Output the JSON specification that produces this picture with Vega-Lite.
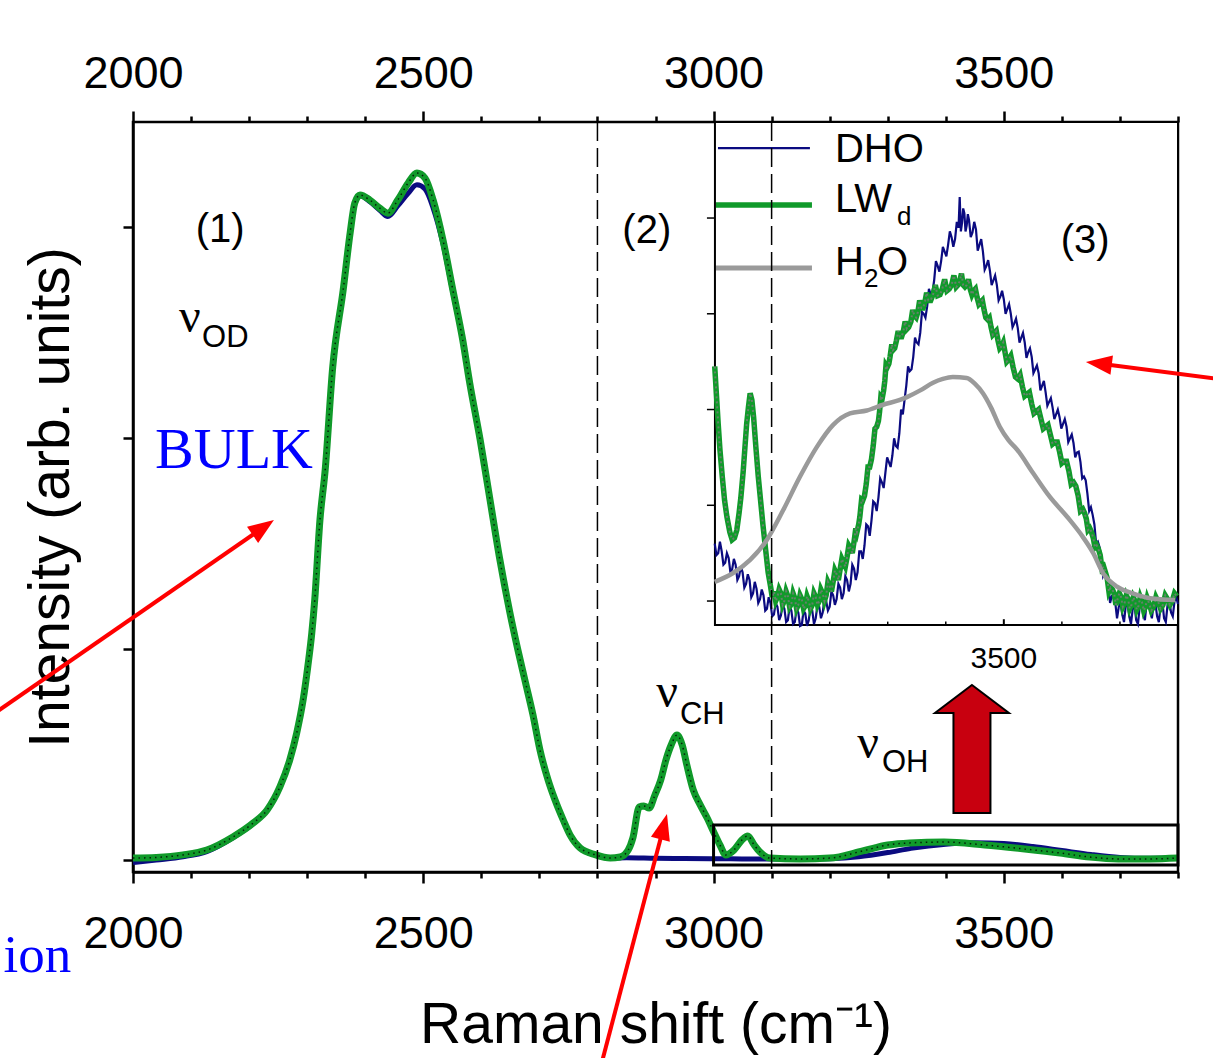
{
  "$schema": "https://vega.github.io/schema/vega-lite/v6.json",
  "width": 1045,
  "height": 750,
  "autosize": {"type": "none"},
  "padding": {"left": 133, "top": 122, "right": 35, "bottom": 186},
  "background": "white",
  "config": {
    "font": "Liberation Sans",
    "view": {"stroke": "black", "strokeWidth": 2.5},
    "axis": {"grid": false, "labelFlush": false, "labelOverlap": false, "domainColor": "black", "domainWidth": 2.5, "tickColor": "black", "tickWidth": 2.5,
      "labelFont": "Liberation Sans", "labelFontSize": 45, "labelColor": "black",
      "titleFont": "Liberation Sans", "titleFontSize": 57, "titleFontWeight": "normal", "titleColor": "black"}
  },
  "datasets": {
    "one": [{"k": 1}],
    "mainDHO": [
      {"x":2000,"y":-0.012},{"x":2040,"y":0.0},{"x":2086,"y":0.015},{"x":2127,"y":0.04},{"x":2172,"y":0.105},{"x":2207,"y":0.172},{"x":2231,"y":0.235},{"x":2253,"y":0.344},{"x":2270,"y":0.472},{"x":2282,"y":0.6},{"x":2293,"y":0.756},{"x":2301,"y":0.913},{"x":2308,"y":1.074},{"x":2313,"y":1.23},{"x":2322,"y":1.61},{"x":2331,"y":1.846},{"x":2344,"y":2.334},{"x":2362,"y":2.7},{"x":2374,"y":2.97},{"x":2382,"y":3.11},{"x":2391,"y":3.148},{"x":2408,"y":3.12},{"x":2425,"y":3.08},{"x":2439,"y":3.05},{"x":2456,"y":3.1},{"x":2474,"y":3.16},{"x":2489,"y":3.2},{"x":2503,"y":3.18},{"x":2517,"y":3.09},{"x":2534,"y":2.92},{"x":2551,"y":2.69},{"x":2568,"y":2.46},{"x":2580,"y":2.26},{"x":2598,"y":1.99},{"x":2615,"y":1.7},{"x":2632,"y":1.42},{"x":2649,"y":1.17},{"x":2663,"y":0.99},{"x":2675,"y":0.85},{"x":2689,"y":0.685},{"x":2701,"y":0.52},{"x":2715,"y":0.378},{"x":2727,"y":0.283},{"x":2741,"y":0.189},{"x":2753,"y":0.117},{"x":2770,"y":0.056},{"x":2797,"y":0.022},{"x":2822,"y":0.008},{"x":2850,"y":0.01},{"x":2900,"y":0.008},{"x":2950,"y":0.007},{"x":3000,"y":0.006},{"x":3050,"y":0.005},{"x":3100,"y":0.005},{"x":3150,"y":0.004},{"x":3200,"y":0.006},{"x":3250,"y":0.015},{"x":3300,"y":0.035},{"x":3340,"y":0.055},{"x":3400,"y":0.075},{"x":3450,"y":0.082},{"x":3500,"y":0.078},{"x":3550,"y":0.064},{"x":3600,"y":0.045},{"x":3650,"y":0.026},{"x":3700,"y":0.012},{"x":3750,"y":0.008},{"x":3800,"y":0.01}
    ],
    "mainLWd": [
      {"x":2000,"y":0.009},{"x":2040,"y":0.012},{"x":2086,"y":0.024},{"x":2127,"y":0.047},{"x":2172,"y":0.109},{"x":2207,"y":0.175},{"x":2231,"y":0.237},{"x":2253,"y":0.346},{"x":2270,"y":0.474},{"x":2282,"y":0.602},{"x":2293,"y":0.758},{"x":2301,"y":0.915},{"x":2308,"y":1.076},{"x":2313,"y":1.232},{"x":2322,"y":1.611},{"x":2331,"y":1.848},{"x":2344,"y":2.336},{"x":2362,"y":2.701},{"x":2374,"y":2.972},{"x":2382,"y":3.114},{"x":2391,"y":3.152},{"x":2408,"y":3.128},{"x":2425,"y":3.09},{"x":2439,"y":3.066},{"x":2456,"y":3.128},{"x":2474,"y":3.209},{"x":2489,"y":3.256},{"x":2503,"y":3.232},{"x":2517,"y":3.128},{"x":2534,"y":2.938},{"x":2551,"y":2.701},{"x":2568,"y":2.464},{"x":2580,"y":2.261},{"x":2598,"y":1.991},{"x":2615,"y":1.706},{"x":2632,"y":1.422},{"x":2649,"y":1.175},{"x":2663,"y":0.995},{"x":2675,"y":0.853},{"x":2689,"y":0.687},{"x":2701,"y":0.521},{"x":2715,"y":0.379},{"x":2727,"y":0.284},{"x":2741,"y":0.19},{"x":2753,"y":0.118},{"x":2770,"y":0.057},{"x":2797,"y":0.024},{"x":2822,"y":0.009},{"x":2839,"y":0.014},{"x":2853,"y":0.047},{"x":2861,"y":0.104},{"x":2872,"y":0.251},{"x":2880,"y":0.256},{"x":2889,"y":0.246},{"x":2899,"y":0.308},{"x":2909,"y":0.379},{"x":2918,"y":0.474},{"x":2927,"y":0.545},{"x":2937,"y":0.592},{"x":2946,"y":0.545},{"x":2954,"y":0.45},{"x":2965,"y":0.332},{"x":2977,"y":0.261},{"x":2989,"y":0.199},{"x":3001,"y":0.128},{"x":3011,"y":0.071},{"x":3021,"y":0.024},{"x":3035,"y":0.047},{"x":3049,"y":0.095},{"x":3059,"y":0.114},{"x":3070,"y":0.071},{"x":3080,"y":0.038},{"x":3097,"y":0.009},{"x":3149,"y":0.005},{"x":3200,"y":0.009},{"x":3257,"y":0.043},{"x":3300,"y":0.071},{"x":3338,"y":0.081},{"x":3397,"y":0.085},{"x":3467,"y":0.071},{"x":3536,"y":0.052},{"x":3597,"y":0.033},{"x":3648,"y":0.014},{"x":3697,"y":0.005},{"x":3752,"y":0.005},{"x":3800,"y":0.009}
    ],
    "insDHO": [
      {"x":3002,"y":0.6},{"x":3005,"y":0.48},{"x":3008,"y":0.5},{"x":3011,"y":0.62},{"x":3014,"y":0.52},{"x":3017,"y":0.38},{"x":3020,"y":0.4},{"x":3023,"y":0.5},{"x":3026,"y":0.45},{"x":3029,"y":0.3},{"x":3032,"y":0.33},{"x":3035,"y":0.44},{"x":3038,"y":0.38},{"x":3041,"y":0.22},{"x":3044,"y":0.26},{"x":3047,"y":0.36},{"x":3050,"y":0.3},{"x":3053,"y":0.14},{"x":3056,"y":0.18},{"x":3059,"y":0.28},{"x":3062,"y":0.22},{"x":3065,"y":0.04},{"x":3068,"y":0.08},{"x":3071,"y":0.2},{"x":3074,"y":0.13},{"x":3077,"y":-0.02},{"x":3080,"y":0.02},{"x":3083,"y":0.12},{"x":3086,"y":0.06},{"x":3089,"y":-0.1},{"x":3092,"y":-0.08},{"x":3095,"y":0.04},{"x":3098,"y":-0.02},{"x":3101,"y":-0.16},{"x":3104,"y":-0.14},{"x":3107,"y":-0.02},{"x":3110,"y":-0.06},{"x":3113,"y":-0.2},{"x":3116,"y":-0.15},{"x":3119,"y":-0.04},{"x":3122,"y":-0.08},{"x":3125,"y":-0.22},{"x":3128,"y":-0.2},{"x":3131,"y":-0.06},{"x":3134,"y":-0.1},{"x":3137,"y":-0.24},{"x":3140,"y":-0.22},{"x":3143,"y":-0.08},{"x":3146,"y":-0.12},{"x":3149,"y":-0.26},{"x":3152,"y":-0.25},{"x":3155,"y":-0.1},{"x":3158,"y":-0.13},{"x":3161,"y":-0.26},{"x":3164,"y":-0.2},{"x":3167,"y":-0.06},{"x":3170,"y":-0.1},{"x":3173,"y":-0.24},{"x":3176,"y":-0.18},{"x":3179,"y":-0.04},{"x":3182,"y":-0.06},{"x":3185,"y":-0.18},{"x":3188,"y":-0.12},{"x":3191,"y":0.02},{"x":3194,"y":0.0},{"x":3197,"y":-0.1},{"x":3200,"y":-0.06},{"x":3203,"y":0.1},{"x":3206,"y":0.06},{"x":3209,"y":-0.04},{"x":3212,"y":0.02},{"x":3215,"y":0.18},{"x":3218,"y":0.14},{"x":3221,"y":0.02},{"x":3224,"y":0.08},{"x":3227,"y":0.26},{"x":3230,"y":0.22},{"x":3233,"y":0.1},{"x":3236,"y":0.18},{"x":3239,"y":0.38},{"x":3242,"y":0.34},{"x":3245,"y":0.22},{"x":3248,"y":0.3},{"x":3251,"y":0.52},{"x":3254,"y":0.52},{"x":3257,"y":0.44},{"x":3260,"y":0.58},{"x":3263,"y":0.8},{"x":3266,"y":0.78},{"x":3269,"y":0.68},{"x":3272,"y":0.84},{"x":3275,"y":1.04},{"x":3278,"y":1.02},{"x":3281,"y":0.94},{"x":3284,"y":1.08},{"x":3287,"y":1.28},{"x":3290,"y":1.24},{"x":3293,"y":1.18},{"x":3296,"y":1.34},{"x":3299,"y":1.5},{"x":3302,"y":1.45},{"x":3305,"y":1.4},{"x":3308,"y":1.52},{"x":3311,"y":1.7},{"x":3314,"y":1.62},{"x":3317,"y":1.6},{"x":3320,"y":1.75},{"x":3323,"y":2.0},{"x":3326,"y":1.95},{"x":3329,"y":2.1},{"x":3332,"y":2.25},{"x":3335,"y":2.45},{"x":3338,"y":2.4},{"x":3341,"y":2.42},{"x":3344,"y":2.55},{"x":3347,"y":2.75},{"x":3350,"y":2.7},{"x":3353,"y":2.68},{"x":3356,"y":2.8},{"x":3359,"y":3.02},{"x":3362,"y":3.0},{"x":3365,"y":2.96},{"x":3368,"y":3.08},{"x":3371,"y":3.26},{"x":3374,"y":3.2},{"x":3377,"y":3.22},{"x":3380,"y":3.35},{"x":3383,"y":3.55},{"x":3386,"y":3.5},{"x":3389,"y":3.44},{"x":3392,"y":3.55},{"x":3395,"y":3.7},{"x":3398,"y":3.65},{"x":3401,"y":3.6},{"x":3404,"y":3.72},{"x":3407,"y":3.86},{"x":3410,"y":3.8},{"x":3413,"y":3.7},{"x":3416,"y":3.78},{"x":3419,"y":3.96},{"x":3422,"y":3.9},{"x":3424,"y":4.22},{"x":3426,"y":3.86},{"x":3428,"y":3.95},{"x":3430,"y":4.1},{"x":3432,"y":4.05},{"x":3434,"y":3.86},{"x":3436,"y":3.92},{"x":3438,"y":4.04},{"x":3440,"y":3.98},{"x":3443,"y":3.8},{"x":3446,"y":3.85},{"x":3449,"y":3.96},{"x":3452,"y":3.88},{"x":3455,"y":3.66},{"x":3458,"y":3.72},{"x":3461,"y":3.78},{"x":3464,"y":3.65},{"x":3467,"y":3.46},{"x":3470,"y":3.5},{"x":3473,"y":3.56},{"x":3476,"y":3.45},{"x":3479,"y":3.3},{"x":3482,"y":3.35},{"x":3485,"y":3.4},{"x":3488,"y":3.3},{"x":3491,"y":3.14},{"x":3494,"y":3.18},{"x":3497,"y":3.24},{"x":3500,"y":3.15},{"x":3503,"y":3.0},{"x":3506,"y":3.05},{"x":3509,"y":3.1},{"x":3512,"y":3.0},{"x":3515,"y":2.86},{"x":3518,"y":2.9},{"x":3521,"y":2.95},{"x":3524,"y":2.85},{"x":3527,"y":2.7},{"x":3530,"y":2.75},{"x":3533,"y":2.8},{"x":3536,"y":2.7},{"x":3539,"y":2.54},{"x":3542,"y":2.6},{"x":3545,"y":2.64},{"x":3548,"y":2.55},{"x":3551,"y":2.38},{"x":3554,"y":2.42},{"x":3557,"y":2.46},{"x":3560,"y":2.38},{"x":3563,"y":2.2},{"x":3566,"y":2.25},{"x":3569,"y":2.3},{"x":3572,"y":2.18},{"x":3575,"y":2.04},{"x":3578,"y":2.08},{"x":3581,"y":2.12},{"x":3584,"y":2.02},{"x":3587,"y":1.9},{"x":3590,"y":1.95},{"x":3593,"y":2.0},{"x":3596,"y":1.92},{"x":3599,"y":1.8},{"x":3602,"y":1.85},{"x":3605,"y":1.9},{"x":3608,"y":1.82},{"x":3611,"y":1.66},{"x":3614,"y":1.7},{"x":3617,"y":1.74},{"x":3620,"y":1.65},{"x":3623,"y":1.5},{"x":3626,"y":1.55},{"x":3629,"y":1.56},{"x":3632,"y":1.45},{"x":3635,"y":1.28},{"x":3638,"y":1.3},{"x":3641,"y":1.26},{"x":3644,"y":1.12},{"x":3647,"y":0.94},{"x":3650,"y":0.98},{"x":3653,"y":0.9},{"x":3656,"y":0.8},{"x":3659,"y":0.6},{"x":3662,"y":0.62},{"x":3665,"y":0.56},{"x":3668,"y":0.45},{"x":3671,"y":0.26},{"x":3674,"y":0.3},{"x":3677,"y":0.24},{"x":3680,"y":0.15},{"x":3683,"y":-0.02},{"x":3686,"y":0.05},{"x":3689,"y":0.04},{"x":3692,"y":-0.02},{"x":3695,"y":-0.18},{"x":3698,"y":-0.06},{"x":3701,"y":-0.02},{"x":3704,"y":-0.14},{"x":3707,"y":-0.22},{"x":3710,"y":-0.05},{"x":3713,"y":-0.02},{"x":3716,"y":-0.16},{"x":3719,"y":-0.24},{"x":3722,"y":-0.08},{"x":3725,"y":-0.04},{"x":3728,"y":-0.2},{"x":3731,"y":-0.24},{"x":3734,"y":-0.06},{"x":3737,"y":-0.02},{"x":3740,"y":-0.14},{"x":3743,"y":-0.2},{"x":3746,"y":-0.02},{"x":3749,"y":0.02},{"x":3752,"y":-0.1},{"x":3755,"y":-0.18},{"x":3758,"y":-0.04},{"x":3761,"y":-0.02},{"x":3764,"y":-0.16},{"x":3767,"y":-0.22},{"x":3770,"y":-0.05},{"x":3773,"y":0.0},{"x":3776,"y":-0.18},{"x":3779,"y":-0.22},{"x":3782,"y":-0.04},{"x":3785,"y":0.02},{"x":3788,"y":-0.12},{"x":3791,"y":-0.16},{"x":3794,"y":0.0},{"x":3797,"y":0.04},{"x":3800,"y":-0.03}
    ],
    "insLWd": [
      {"x":3002,"y":2.45},{"x":3005,"y":2.15},{"x":3008,"y":1.85},{"x":3011,"y":1.58},{"x":3015,"y":1.3},{"x":3019,"y":1.05},{"x":3023,"y":0.88},{"x":3028,"y":0.72},{"x":3032,"y":0.64},{"x":3036,"y":0.66},{"x":3040,"y":0.74},{"x":3044,"y":0.92},{"x":3047,"y":1.08},{"x":3051,"y":1.35},{"x":3054,"y":1.6},{"x":3057,"y":1.85},{"x":3060,"y":2.02},{"x":3063,"y":2.17},{"x":3066,"y":2.1},{"x":3069,"y":1.92},{"x":3073,"y":1.6},{"x":3077,"y":1.3},{"x":3081,"y":1.05},{"x":3085,"y":0.8},{"x":3090,"y":0.52},{"x":3094,"y":0.3},{"x":3098,"y":0.16},{"x":3101,"y":0.04},{"x":3104,"y":0.1},{"x":3107,"y":0.0},{"x":3110,"y":0.04},{"x":3113,"y":0.12},{"x":3116,"y":0.08},{"x":3119,"y":-0.04},{"x":3122,"y":0.0},{"x":3125,"y":0.1},{"x":3128,"y":0.05},{"x":3131,"y":-0.06},{"x":3134,"y":-0.03},{"x":3137,"y":0.08},{"x":3140,"y":0.03},{"x":3143,"y":-0.08},{"x":3146,"y":-0.04},{"x":3149,"y":0.06},{"x":3152,"y":0.02},{"x":3155,"y":-0.08},{"x":3158,"y":-0.05},{"x":3161,"y":0.05},{"x":3164,"y":0.0},{"x":3167,"y":-0.08},{"x":3170,"y":-0.04},{"x":3173,"y":0.08},{"x":3176,"y":0.04},{"x":3179,"y":-0.04},{"x":3182,"y":0.0},{"x":3185,"y":0.12},{"x":3188,"y":0.08},{"x":3191,"y":0.0},{"x":3194,"y":0.06},{"x":3197,"y":0.2},{"x":3200,"y":0.16},{"x":3203,"y":0.1},{"x":3206,"y":0.2},{"x":3209,"y":0.32},{"x":3212,"y":0.28},{"x":3215,"y":0.22},{"x":3218,"y":0.33},{"x":3221,"y":0.44},{"x":3224,"y":0.4},{"x":3227,"y":0.36},{"x":3230,"y":0.46},{"x":3233,"y":0.58},{"x":3236,"y":0.55},{"x":3239,"y":0.5},{"x":3242,"y":0.62},{"x":3245,"y":0.76},{"x":3247,"y":0.72},{"x":3250,"y":0.8},{"x":3252,"y":0.88},{"x":3255,"y":1.06},{"x":3257,"y":1.05},{"x":3260,"y":1.1},{"x":3263,"y":1.22},{"x":3266,"y":1.4},{"x":3269,"y":1.4},{"x":3272,"y":1.48},{"x":3275,"y":1.62},{"x":3278,"y":1.8},{"x":3281,"y":1.82},{"x":3284,"y":1.88},{"x":3286,"y":1.98},{"x":3288,"y":2.12},{"x":3290,"y":2.1},{"x":3293,"y":2.2},{"x":3295,"y":2.3},{"x":3297,"y":2.46},{"x":3299,"y":2.44},{"x":3302,"y":2.48},{"x":3304,"y":2.55},{"x":3307,"y":2.68},{"x":3309,"y":2.62},{"x":3312,"y":2.64},{"x":3315,"y":2.72},{"x":3318,"y":2.82},{"x":3321,"y":2.76},{"x":3324,"y":2.76},{"x":3327,"y":2.82},{"x":3330,"y":2.92},{"x":3333,"y":2.84},{"x":3336,"y":2.86},{"x":3340,"y":2.92},{"x":3343,"y":3.04},{"x":3346,"y":2.98},{"x":3349,"y":2.96},{"x":3352,"y":3.02},{"x":3355,"y":3.14},{"x":3358,"y":3.06},{"x":3361,"y":3.06},{"x":3364,"y":3.12},{"x":3367,"y":3.22},{"x":3370,"y":3.14},{"x":3374,"y":3.14},{"x":3378,"y":3.2},{"x":3382,"y":3.3},{"x":3386,"y":3.19},{"x":3390,"y":3.2},{"x":3394,"y":3.26},{"x":3398,"y":3.36},{"x":3402,"y":3.24},{"x":3406,"y":3.26},{"x":3410,"y":3.3},{"x":3414,"y":3.4},{"x":3418,"y":3.28},{"x":3421,"y":3.3},{"x":3424,"y":3.34},{"x":3427,"y":3.42},{"x":3430,"y":3.3},{"x":3433,"y":3.28},{"x":3436,"y":3.3},{"x":3439,"y":3.36},{"x":3442,"y":3.26},{"x":3445,"y":3.2},{"x":3448,"y":3.24},{"x":3451,"y":3.26},{"x":3454,"y":3.17},{"x":3457,"y":3.1},{"x":3460,"y":3.12},{"x":3463,"y":3.14},{"x":3466,"y":3.04},{"x":3469,"y":2.96},{"x":3472,"y":2.94},{"x":3475,"y":2.96},{"x":3478,"y":2.86},{"x":3481,"y":2.78},{"x":3484,"y":2.8},{"x":3487,"y":2.82},{"x":3490,"y":2.72},{"x":3493,"y":2.64},{"x":3496,"y":2.66},{"x":3499,"y":2.7},{"x":3502,"y":2.6},{"x":3505,"y":2.5},{"x":3508,"y":2.52},{"x":3512,"y":2.56},{"x":3516,"y":2.44},{"x":3520,"y":2.34},{"x":3524,"y":2.32},{"x":3528,"y":2.36},{"x":3532,"y":2.24},{"x":3536,"y":2.14},{"x":3540,"y":2.16},{"x":3544,"y":2.18},{"x":3548,"y":2.06},{"x":3552,"y":1.96},{"x":3556,"y":1.98},{"x":3560,"y":2.0},{"x":3564,"y":1.9},{"x":3568,"y":1.8},{"x":3572,"y":1.82},{"x":3576,"y":1.84},{"x":3580,"y":1.74},{"x":3584,"y":1.64},{"x":3588,"y":1.66},{"x":3592,"y":1.66},{"x":3596,"y":1.56},{"x":3600,"y":1.44},{"x":3604,"y":1.46},{"x":3608,"y":1.46},{"x":3612,"y":1.36},{"x":3616,"y":1.22},{"x":3620,"y":1.24},{"x":3624,"y":1.2},{"x":3628,"y":1.1},{"x":3632,"y":0.94},{"x":3636,"y":0.96},{"x":3639,"y":0.92},{"x":3642,"y":0.86},{"x":3645,"y":0.74},{"x":3648,"y":0.76},{"x":3651,"y":0.72},{"x":3654,"y":0.66},{"x":3657,"y":0.56},{"x":3660,"y":0.58},{"x":3663,"y":0.54},{"x":3666,"y":0.48},{"x":3669,"y":0.34},{"x":3672,"y":0.36},{"x":3675,"y":0.3},{"x":3678,"y":0.24},{"x":3681,"y":0.1},{"x":3684,"y":0.14},{"x":3687,"y":0.12},{"x":3690,"y":0.08},{"x":3693,"y":-0.04},{"x":3696,"y":0.02},{"x":3699,"y":0.08},{"x":3702,"y":0.04},{"x":3705,"y":-0.06},{"x":3708,"y":-0.02},{"x":3711,"y":0.06},{"x":3714,"y":0.02},{"x":3717,"y":-0.08},{"x":3720,"y":-0.04},{"x":3723,"y":0.04},{"x":3726,"y":0.0},{"x":3729,"y":-0.09},{"x":3732,"y":-0.05},{"x":3735,"y":0.04},{"x":3738,"y":-0.01},{"x":3741,"y":-0.1},{"x":3744,"y":-0.06},{"x":3747,"y":0.03},{"x":3750,"y":-0.02},{"x":3754,"y":-0.1},{"x":3758,"y":-0.06},{"x":3762,"y":0.04},{"x":3766,"y":-0.01},{"x":3770,"y":-0.08},{"x":3774,"y":-0.04},{"x":3778,"y":0.06},{"x":3782,"y":0.02},{"x":3786,"y":-0.04},{"x":3790,"y":0.0},{"x":3794,"y":0.08},{"x":3798,"y":0.05}
    ],
    "insH2O": [
      {"x":3002,"y":0.2},{"x":3033,"y":0.29},{"x":3063,"y":0.43},{"x":3092,"y":0.64},{"x":3120,"y":0.95},{"x":3149,"y":1.3},{"x":3178,"y":1.61},{"x":3206,"y":1.84},{"x":3235,"y":1.96},{"x":3264,"y":1.99},{"x":3292,"y":2.05},{"x":3321,"y":2.1},{"x":3333,"y":2.13},{"x":3356,"y":2.2},{"x":3378,"y":2.28},{"x":3395,"y":2.32},{"x":3412,"y":2.34},{"x":3436,"y":2.33},{"x":3450,"y":2.27},{"x":3464,"y":2.17},{"x":3478,"y":2.02},{"x":3493,"y":1.82},{"x":3508,"y":1.68},{"x":3523,"y":1.58},{"x":3550,"y":1.34},{"x":3579,"y":1.09},{"x":3609,"y":0.88},{"x":3636,"y":0.67},{"x":3654,"y":0.5},{"x":3671,"y":0.29},{"x":3695,"y":0.15},{"x":3722,"y":0.08},{"x":3752,"y":0.03},{"x":3795,"y":0.01}
    ]
  },
  "resolve": {"scale": {"y": "independent"}, "axis": {"x": "independent", "y": "independent"}},
  "layer": [
    {
      "data": {"name": "mainDHO"},
      "mark": {"type": "line", "color": "#0b0b80", "strokeWidth": 5, "interpolate": "monotone"},
      "encoding": {
        "x": {"field": "x", "type": "quantitative", "scale": {"domain": [2000, 3800], "nice": false, "zero": false},
          "axis": {"orient": "bottom", "values": [2000, 2500, 3000, 3500], "format": "d", "tickSize": 11, "labelPadding": 28, "title": "Raman shift (cm⁻¹)", "titlePadding": 41}},
        "y": {"field": "y", "type": "quantitative", "scale": {"domain": [-0.057, 3.498], "nice": false, "zero": false},
          "axis": {"orient": "left", "values": [0, 1, 2, 3], "tickSize": 10, "labels": false, "title": "Intensity (arb. units)", "titlePadding": 41}}
      }
    },
    {
      "data": {"name": "mainLWd"},
      "mark": {"type": "line", "color": "#109a2a", "strokeWidth": 7, "interpolate": "monotone"},
      "encoding": {
        "x": {"field": "x", "type": "quantitative", "scale": {"domain": [2000, 3800], "nice": false, "zero": false},
          "axis": {"orient": "bottom", "values": [2100, 2200, 2300, 2400, 2600, 2700, 2800, 2900, 3100, 3200, 3300, 3400, 3600, 3700, 3800], "tickSize": 6, "labels": false, "domain": false, "title": null}},
        "y": {"field": "y", "type": "quantitative", "scale": {"domain": [-0.057, 3.498], "nice": false, "zero": false}, "axis": null}
      }
    },
    {
      "data": {"name": "mainLWd"},
      "mark": {"type": "line", "color": "black", "strokeWidth": 1.5, "strokeDash": [1.5, 4], "opacity": 0.8, "interpolate": "monotone"},
      "encoding": {
        "x": {"field": "x", "type": "quantitative", "scale": {"domain": [2000, 3800], "nice": false, "zero": false},
          "axis": {"orient": "top", "values": [2000, 2500, 3000, 3500], "format": "d", "tickSize": 11, "labelPadding": 14.5, "domain": false, "title": null}},
        "y": {"field": "y", "type": "quantitative", "scale": {"domain": [-0.057, 3.498], "nice": false, "zero": false}, "axis": null}
      }
    },
    {
      "data": {"name": "one"},
      "mark": {"type": "rect", "filled": false, "stroke": "black", "strokeWidth": 3},
      "encoding": {
        "x": {"datum": 3000, "type": "quantitative", "scale": {"domain": [2000, 3800], "nice": false, "zero": false}, "axis": null},
        "x2": {"datum": 3800},
        "y": {"datum": -0.024, "type": "quantitative", "scale": {"domain": [-0.057, 3.498], "nice": false, "zero": false}, "axis": null},
        "y2": {"datum": 0.166}
      }
    },
    {
      "data": {"name": "one"},
      "mark": {"type": "rect", "fill": "white", "stroke": "black", "strokeWidth": 2},
      "encoding": {
        "x": {"datum": 3002.4, "type": "quantitative", "scale": {"domain": [2000, 3800], "nice": false, "zero": false}, "axis": null},
        "x2": {"datum": 3800},
        "y": {"datum": -0.25, "type": "quantitative", "scale": {"domain": [-2.83, 5.003], "nice": false, "zero": false}, "axis": null},
        "y2": {"datum": 5.003}
      }
    },
    {
      "data": {"values": [{"v": 0}, {"v": 1}, {"v": 2}, {"v": 3}, {"v": 4}]},
      "mark": {"type": "rule", "color": "black", "strokeWidth": 1.5},
      "encoding": {
        "x": {"datum": 2988.6, "type": "quantitative", "scale": {"domain": [2000, 3800], "nice": false, "zero": false}, "axis": null},
        "x2": {"datum": 3002.4},
        "y": {"field": "v", "type": "quantitative", "scale": {"domain": [-2.83, 5.003], "nice": false, "zero": false}, "axis": null}
      }
    },
    {
      "data": {"values": [{"v": 3100}, {"v": 3200}, {"v": 3300}, {"v": 3400}, {"v": 3600}, {"v": 3700}]},
      "mark": {"type": "rule", "color": "black", "strokeWidth": 1.5},
      "encoding": {
        "x": {"field": "v", "type": "quantitative", "scale": {"domain": [2000, 3800], "nice": false, "zero": false}, "axis": null},
        "y": {"datum": -0.25, "type": "quantitative", "scale": {"domain": [-2.83, 5.003], "nice": false, "zero": false}, "axis": null},
        "y2": {"datum": -0.215}
      }
    },
    {
      "data": {"values": [{"v": 3500}]},
      "mark": {"type": "rule", "color": "black", "strokeWidth": 2},
      "encoding": {
        "x": {"field": "v", "type": "quantitative", "scale": {"domain": [2000, 3800], "nice": false, "zero": false}, "axis": null},
        "y": {"datum": -0.25, "type": "quantitative", "scale": {"domain": [-2.83, 5.003], "nice": false, "zero": false}, "axis": null},
        "y2": {"datum": -0.19}
      }
    },
    {
      "data": {"values": [{"x": 3500, "y": -0.7, "t": "3500"}]},
      "mark": {"type": "text", "fontSize": 30, "font": "Liberation Sans", "align": "center", "baseline": "alphabetic", "color": "black"},
      "encoding": {
        "x": {"field": "x", "type": "quantitative", "scale": {"domain": [2000, 3800], "nice": false, "zero": false}, "axis": null},
        "y": {"field": "y", "type": "quantitative", "scale": {"domain": [-2.83, 5.003], "nice": false, "zero": false}, "axis": null},
        "text": {"field": "t"}
      }
    },
    {
      "data": {"name": "insDHO"},
      "mark": {"type": "line", "color": "#0b0b80", "strokeWidth": 2.2},
      "encoding": {
        "x": {"field": "x", "type": "quantitative", "scale": {"domain": [2000, 3800], "nice": false, "zero": false}, "axis": null},
        "y": {"field": "y", "type": "quantitative", "scale": {"domain": [-2.83, 5.003], "nice": false, "zero": false}, "axis": null}
      }
    },
    {
      "data": {"name": "insLWd"},
      "mark": {"type": "line", "color": "#109a2a", "strokeWidth": 5.5},
      "encoding": {
        "x": {"field": "x", "type": "quantitative", "scale": {"domain": [2000, 3800], "nice": false, "zero": false}, "axis": null},
        "y": {"field": "y", "type": "quantitative", "scale": {"domain": [-2.83, 5.003], "nice": false, "zero": false}, "axis": null}
      }
    },
    {
      "data": {"name": "insLWd"},
      "mark": {"type": "line", "color": "#7a7a7a", "strokeWidth": 2, "strokeDash": [2, 3], "opacity": 0.8},
      "encoding": {
        "x": {"field": "x", "type": "quantitative", "scale": {"domain": [2000, 3800], "nice": false, "zero": false}, "axis": null},
        "y": {"field": "y", "type": "quantitative", "scale": {"domain": [-2.83, 5.003], "nice": false, "zero": false}, "axis": null}
      }
    },
    {
      "data": {"name": "insH2O"},
      "mark": {"type": "line", "color": "#9a9a9a", "strokeWidth": 4.5, "interpolate": "monotone"},
      "encoding": {
        "x": {"field": "x", "type": "quantitative", "scale": {"domain": [2000, 3800], "nice": false, "zero": false}, "axis": null},
        "y": {"field": "y", "type": "quantitative", "scale": {"domain": [-2.83, 5.003], "nice": false, "zero": false}, "axis": null}
      }
    },
    {
      "data": {"name": "one"},
      "mark": {"type": "rule", "color": "#0b0b80", "strokeWidth": 2.2},
      "encoding": {
        "x": {"datum": 3007.6, "type": "quantitative", "scale": {"domain": [2000, 3800], "nice": false, "zero": false}, "axis": null},
        "x2": {"datum": 3166},
        "y": {"datum": 3.374, "type": "quantitative", "scale": {"domain": [-0.057, 3.498], "nice": false, "zero": false}, "axis": null}
      }
    },
    {
      "data": {"name": "one"},
      "mark": {"type": "rule", "color": "#109a2a", "strokeWidth": 5.5},
      "encoding": {
        "x": {"datum": 3004.2, "type": "quantitative", "scale": {"domain": [2000, 3800], "nice": false, "zero": false}, "axis": null},
        "x2": {"datum": 3169.5},
        "y": {"datum": 3.104, "type": "quantitative", "scale": {"domain": [-0.057, 3.498], "nice": false, "zero": false}, "axis": null}
      }
    },
    {
      "data": {"name": "one"},
      "mark": {"type": "rule", "color": "#9a9a9a", "strokeWidth": 5},
      "encoding": {
        "x": {"datum": 3004.2, "type": "quantitative", "scale": {"domain": [2000, 3800], "nice": false, "zero": false}, "axis": null},
        "x2": {"datum": 3169.5},
        "y": {"datum": 2.806, "type": "quantitative", "scale": {"domain": [-0.057, 3.498], "nice": false, "zero": false}, "axis": null}
      }
    },
    {
      "data": {"values": [{"x": 3209, "y": 3.308, "t": "DHO"}, {"x": 3209, "y": 3.071, "t": "LW"}, {"x": 3209, "y": 2.773, "t": "H"}, {"x": 3281.4, "y": 2.773, "t": "O"}]},
      "mark": {"type": "text", "fontSize": 40, "font": "Liberation Sans", "align": "left", "baseline": "alphabetic", "color": "black"},
      "encoding": {
        "x": {"field": "x", "type": "quantitative", "scale": {"domain": [2000, 3800], "nice": false, "zero": false}, "axis": null},
        "y": {"field": "y", "type": "quantitative", "scale": {"domain": [-0.057, 3.498], "nice": false, "zero": false}, "axis": null},
        "text": {"field": "t"}
      }
    },
    {
      "data": {"values": [{"x": 3316, "y": 3.009, "t": "d"}, {"x": 3259, "y": 2.716, "t": "2"}]},
      "mark": {"type": "text", "fontSize": 26, "font": "Liberation Sans", "align": "left", "baseline": "alphabetic", "color": "black"},
      "encoding": {
        "x": {"field": "x", "type": "quantitative", "scale": {"domain": [2000, 3800], "nice": false, "zero": false}, "axis": null},
        "y": {"field": "y", "type": "quantitative", "scale": {"domain": [-0.057, 3.498], "nice": false, "zero": false}, "axis": null},
        "text": {"field": "t"}
      }
    },
    {
      "data": {"values": [{"x": 2800}, {"x": 3100}]},
      "mark": {"type": "rule", "color": "black", "strokeWidth": 1.5, "strokeDash": [19, 7]},
      "encoding": {
        "x": {"field": "x", "type": "quantitative", "scale": {"domain": [2000, 3800], "nice": false, "zero": false},
          "axis": {"orient": "top", "values": [2100, 2200, 2300, 2400, 2600, 2700, 2800, 2900, 3100, 3200, 3300, 3400, 3600, 3700, 3800], "tickSize": 6, "labels": false, "domain": false, "title": null}}
      }
    },
    {
      "data": {"values": [{"x": 3541.6, "y": 2.616, "t": "SASA"}]},
      "mark": {"type": "text", "fontSize": 50, "font": "Liberation Sans", "align": "left", "baseline": "alphabetic", "color": "white"},
      "encoding": {
        "x": {"field": "x", "type": "quantitative", "scale": {"domain": [2000, 3800], "nice": false, "zero": false}, "axis": null},
        "y": {"field": "y", "type": "quantitative", "scale": {"domain": [-0.057, 3.498], "nice": false, "zero": false}, "axis": null},
        "text": {"field": "t"}
      }
    },
    {
      "data": {"values": [{"x": 2150, "y": 2.929, "t": "(1)"}, {"x": 2885, "y": 2.924, "t": "(2)"}, {"x": 3640, "y": 2.877, "t": "(3)"}]},
      "mark": {"type": "text", "fontSize": 40, "font": "Liberation Sans", "align": "center", "baseline": "alphabetic", "color": "black"},
      "encoding": {
        "x": {"field": "x", "type": "quantitative", "scale": {"domain": [2000, 3800], "nice": false, "zero": false}, "axis": null},
        "y": {"field": "y", "type": "quantitative", "scale": {"domain": [-0.057, 3.498], "nice": false, "zero": false}, "axis": null},
        "text": {"field": "t"}
      }
    },
    {
      "data": {"values": [{"x": 2098, "y": 2.502, "t": "ν"}, {"x": 2920, "y": 0.725, "t": "ν"}, {"x": 3266, "y": 0.483, "t": "ν"}]},
      "mark": {"type": "text", "fontSize": 48, "font": "Liberation Serif", "align": "center", "baseline": "alphabetic", "color": "black"},
      "encoding": {
        "x": {"field": "x", "type": "quantitative", "scale": {"domain": [2000, 3800], "nice": false, "zero": false}, "axis": null},
        "y": {"field": "y", "type": "quantitative", "scale": {"domain": [-0.057, 3.498], "nice": false, "zero": false}, "axis": null},
        "text": {"field": "t"}
      }
    },
    {
      "data": {"values": [{"x": 2119, "y": 2.431, "t": "OD"}, {"x": 2942, "y": 0.645, "t": "CH"}, {"x": 3290, "y": 0.417, "t": "OH"}]},
      "mark": {"type": "text", "fontSize": 31, "font": "Liberation Sans", "align": "left", "baseline": "alphabetic", "color": "black"},
      "encoding": {
        "x": {"field": "x", "type": "quantitative", "scale": {"domain": [2000, 3800], "nice": false, "zero": false}, "axis": null},
        "y": {"field": "y", "type": "quantitative", "scale": {"domain": [-0.057, 3.498], "nice": false, "zero": false}, "axis": null},
        "text": {"field": "t"}
      }
    },
    {
      "data": {"values": [{"x": 2038, "y": 1.858, "t": "BULK"}]},
      "mark": {"type": "text", "fontSize": 58, "font": "Liberation Serif", "align": "left", "baseline": "alphabetic", "color": "#0000ff"},
      "encoding": {
        "x": {"field": "x", "type": "quantitative", "scale": {"domain": [2000, 3800], "nice": false, "zero": false}, "axis": null},
        "y": {"field": "y", "type": "quantitative", "scale": {"domain": [-0.057, 3.498], "nice": false, "zero": false}, "axis": null},
        "text": {"field": "t"}
      }
    },
    {
      "data": {"values": [{"x": 1893.5, "y": -0.531, "t": "ion"}]},
      "mark": {"type": "text", "fontSize": 53, "font": "Liberation Serif", "align": "right", "baseline": "alphabetic", "color": "#0000ff"},
      "encoding": {
        "x": {"field": "x", "type": "quantitative", "scale": {"domain": [2000, 3800], "nice": false, "zero": false}, "axis": null},
        "y": {"field": "y", "type": "quantitative", "scale": {"domain": [-0.057, 3.498], "nice": false, "zero": false}, "axis": null},
        "text": {"field": "t"}
      }
    },
    {
      "data": {"values": [
        {"a": 1, "x": 1762.3, "y": 0.697}, {"a": 1, "x": 2224.4, "y": 1.576},
        {"a": 2, "x": 2806, "y": -0.976}, {"a": 2, "x": 2914.1, "y": 0.158},
        {"a": 3, "x": 3865.3, "y": 2.282}, {"a": 3, "x": 3663.6, "y": 2.353}
      ]},
      "mark": {"type": "line", "color": "#ff0000", "strokeWidth": 4},
      "encoding": {
        "x": {"field": "x", "type": "quantitative", "scale": {"domain": [2000, 3800], "nice": false, "zero": false}, "axis": null},
        "y": {"field": "y", "type": "quantitative", "scale": {"domain": [-0.057, 3.498], "nice": false, "zero": false}, "axis": null},
        "detail": {"field": "a", "type": "nominal"}
      }
    },
    {
      "data": {"name": "one"},
      "mark": {"type": "point", "shape": "M0,-1L0.75,1L-0.75,1Z", "size": 676, "filled": true, "color": "#ff0000", "opacity": 1, "angle": 55.3},
      "encoding": {
        "x": {"datum": 2224.4, "type": "quantitative", "scale": {"domain": [2000, 3800], "nice": false, "zero": false}, "axis": null},
        "y": {"datum": 1.576, "type": "quantitative", "scale": {"domain": [-0.057, 3.498], "nice": false, "zero": false}, "axis": null}
      }
    },
    {
      "data": {"name": "one"},
      "mark": {"type": "point", "shape": "M0,-1L0.75,1L-0.75,1Z", "size": 676, "filled": true, "color": "#ff0000", "opacity": 1, "angle": 14.7},
      "encoding": {
        "x": {"datum": 2914.1, "type": "quantitative", "scale": {"domain": [2000, 3800], "nice": false, "zero": false}, "axis": null},
        "y": {"datum": 0.158, "type": "quantitative", "scale": {"domain": [-0.057, 3.498], "nice": false, "zero": false}, "axis": null}
      }
    },
    {
      "data": {"name": "one"},
      "mark": {"type": "point", "shape": "M0,-1L0.75,1L-0.75,1Z", "size": 676, "filled": true, "color": "#ff0000", "opacity": 1, "angle": 277.2},
      "encoding": {
        "x": {"datum": 3663.6, "type": "quantitative", "scale": {"domain": [2000, 3800], "nice": false, "zero": false}, "axis": null},
        "y": {"datum": 2.353, "type": "quantitative", "scale": {"domain": [-0.057, 3.498], "nice": false, "zero": false}, "axis": null}
      }
    },
    {
      "data": {"name": "one"},
      "mark": {"type": "point", "shape": "M0,-1L0.578,-0.5625L0.289,-0.5625L0.289,1L-0.289,1L-0.289,-0.5625L-0.578,-0.5625Z", "size": 16384, "filled": true, "fill": "#c8000f", "stroke": "black", "strokeWidth": 2, "opacity": 1},
      "encoding": {
        "x": {"datum": 3445.1, "type": "quantitative", "scale": {"domain": [2000, 3800], "nice": false, "zero": false}, "axis": null},
        "y": {"datum": 0.526, "type": "quantitative", "scale": {"domain": [-0.057, 3.498], "nice": false, "zero": false}, "axis": null}
      }
    }
  ]
}
